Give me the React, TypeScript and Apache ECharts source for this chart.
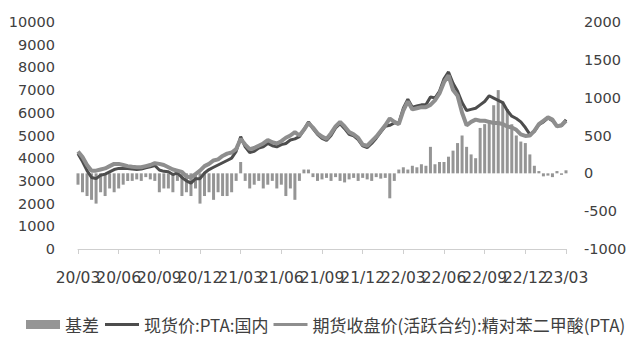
import React, { useEffect, useRef } from "react";
import * as echarts from "echarts";

// Tick labels shown on the x axis (one per quarter)
const tickLabels = ["20/03", "20/06", "20/09", "20/12", "21/03", "21/06", "21/09", "21/12", "22/03", "22/06", "22/09", "22/12", "23/03"];

// Categories: dekads (1st, 11th, 21st of each month) from 2020-03-01 to 2023-03-01
const categories: string[] = [];
for (let y = 2020; y <= 2023; y++) {
  for (let m = 1; m <= 12; m++) {
    if (y === 2020 && m < 3) continue;
    for (const d of ["01", "11", "21"]) {
      if (y === 2023 && (m > 3 || (m === 3 && d !== "01"))) continue;
      categories.push(`${y}-${String(m).padStart(2, "0")}-${d}`);
    }
  }
}

// 基差 (right axis)
const basis = [
  -150, -250, -300, -350, -400, -250, -300, -200, -250,
  -200, -150, -100, -100, -80, -100, -50, -80, -100,
  -250, -200, -200, -250, -100, -300, -250, -300, -200,
  -400, -300, -250, -350, -250, -300, -300, -250, -100,
  150, -100, -200, -150, -100, -200, -150, -100, -200,
  -150, -300, -200, -350, -100, 50, 50, -50, -100,
  -80, -60, -100, -50, -100, -120, -80, -60, -100,
  -60, -80, -100, -50, -70, -60, -330, -100, 50,
  80, 50, 100, 80, 120, 100, 350, 120, 150,
  150, 220, 300, 400, 500, 350, 250, 200, 600,
  650, 700, 900, 1100, 950, 850, 650, 500, 420,
  400, 250, 100, 30, -40, -30, -50, 30, -20,
  40,
];

// 现货价:PTA:国内 (left axis)
const spot = [
  4200, 3850, 3450, 3150, 3100, 3250, 3300, 3400, 3500,
  3550, 3550, 3550, 3520, 3500, 3520, 3580, 3620, 3680,
  3480, 3420, 3400, 3280, 3350, 3150, 3000, 2900, 3100,
  3100, 3350, 3500, 3600, 3700, 3800, 3900, 4000, 4300,
  4950, 4500, 4250, 4300, 4450, 4500, 4650, 4550, 4500,
  4600, 4650, 4800, 4850, 4950, 5250, 5600, 5300, 5050,
  4870, 4780, 5000, 5330, 5520, 5300, 5050, 4980, 4820,
  4540, 4470, 4650, 4880, 5150, 5400, 5450, 5550, 5550,
  6200, 6600, 6250, 6300, 6350, 6350, 6700, 6650, 6950,
  7500, 7800, 7300, 6950, 6450, 6100, 6150, 6200, 6350,
  6500, 6750, 6650, 6550, 6450, 6100, 5850, 5750, 5600,
  5350, 5050, 5180, 5480, 5600, 5770, 5650, 5430, 5430,
  5700,
];

// 期货收盘价(活跃合约):精对苯二甲酸(PTA) (left axis)
const futures = [
  4300, 4050, 3700, 3450, 3450, 3500, 3550, 3650, 3750,
  3750, 3700, 3650, 3620, 3600, 3600, 3650, 3700, 3780,
  3750, 3700, 3600, 3500, 3450, 3400, 3200, 3150, 3300,
  3450, 3650, 3750, 3900, 3950, 4100, 4200, 4250, 4400,
  4850, 4600, 4400, 4450, 4550, 4650, 4800, 4700, 4650,
  4750, 4900, 5000, 5150, 5000, 5250, 5550, 5350, 5100,
  4950, 4850, 5100, 5400, 5600, 5400, 5150, 5050, 4900,
  4600, 4550, 4750, 4950, 5200, 5450, 5750, 5600, 5500,
  6100, 6500, 6150, 6200, 6250, 6250, 6350, 6550, 6850,
  7350, 7650, 7000, 6750, 6000, 5450, 5600, 5700, 5650,
  5650, 5600, 5550, 5550, 5500, 5400, 5350, 5250, 5050,
  4980, 5000, 5200, 5500, 5650, 5800, 5700, 5400, 5450,
  5650,
];

const seriesNames = ["基差", "现货价:PTA:国内", "期货收盘价(活跃合约):精对苯二甲酸(PTA)"];

export default function App() {
  const ref = useRef<HTMLDivElement>(null);
  useEffect(() => {
    if (!ref.current) return;
    const chart = echarts.init(ref.current, undefined, { renderer: "svg" });
    const labelMap: Record<string, string> = {};
    tickLabels.forEach((t) => {
      labelMap[`20${t.slice(0, 2)}-${t.slice(3, 5)}-01`] = t;
    });
    const axisFont = { fontFamily: "DejaVu Sans", color: "#404040" };
    const legendText = { fontFamily: "Noto Sans CJK SC", fontSize: 17, color: "#404040" };
    const makeX = (pick: (i: number) => boolean, main: boolean) => ({
      type: "category",
      data: categories,
      boundaryGap: false,
      position: "bottom",
      axisLine: { show: main, lineStyle: { color: "#cfcfcf", width: 1 } },
      axisTick: {
        show: main,
        interval: (i: number) => i % 9 === 0,
        length: 5,
        lineStyle: { color: "#cfcfcf" },
      },
      axisLabel: {
        interval: pick,
        showMinLabel: main ? true : null,
        showMaxLabel: main ? true : null,
        hideOverlap: false,
        formatter: (v: string) => labelMap[v] ?? "",
        margin: 21,
        fontSize: 15.5,
        ...axisFont,
      },
      splitLine: { show: false },
    });
    chart.setOption({
      animation: false,
      backgroundColor: "#ffffff",
      grid: { left: 78, right: 68, top: 22, bottom: 95, containLabel: false },
      legend: [
        {
          left: 26,
          top: 316,
          padding: 0,
          width: 100,
          itemGap: 5,
          itemWidth: 34,
          itemHeight: 9,
          textStyle: legendText,
          data: [{ name: seriesNames[0], icon: "rect" }],
        },
        {
          left: 105,
          top: 316,
          padding: 0,
          width: 560,
          itemGap: 5,
          itemWidth: 34,
          itemHeight: 3,
          textStyle: legendText,
          data: [
            { name: seriesNames[1], icon: "rect" },
            { name: seriesNames[2], icon: "rect" },
          ],
        },
      ],
      xAxis: [makeX((i: number) => i % 18 === 0, true), makeX((i: number) => i % 18 === 9, false)],
      yAxis: [
        {
          type: "value",
          min: 0,
          max: 10000,
          interval: 1000,
          axisLine: { show: false },
          axisTick: { show: false },
          splitLine: { show: false },
          axisLabel: { margin: 23, fontSize: 14.5, formatter: (v: number) => String(v), ...axisFont },
        },
        {
          type: "value",
          min: -1000,
          max: 2000,
          interval: 500,
          position: "right",
          axisLine: { show: false },
          axisTick: { show: false },
          splitLine: { show: false },
          axisLabel: { margin: 18, fontSize: 14.5, formatter: (v: number) => String(v), ...axisFont },
        },
      ],
      series: [
        {
          name: seriesNames[0],
          type: "bar",
          yAxisIndex: 1,
          data: basis,
          barWidth: 3,
          itemStyle: { color: "#959595" },
        },
        {
          name: seriesNames[1],
          type: "line",
          yAxisIndex: 0,
          data: spot,
          symbol: "none",
          lineStyle: { color: "#4d4d4d", width: 3 },
          itemStyle: { color: "#4d4d4d" },
        },
        {
          name: seriesNames[2],
          type: "line",
          yAxisIndex: 0,
          data: futures,
          symbol: "none",
          lineStyle: { color: "#8e8e8e", width: 4 },
          itemStyle: { color: "#8e8e8e" },
        },
      ],
    });
    return () => chart.dispose();
  }, []);
  return <div ref={ref} style={{ width: 634, height: 344, position: "absolute", left: 0, top: 0 }} />;
}
